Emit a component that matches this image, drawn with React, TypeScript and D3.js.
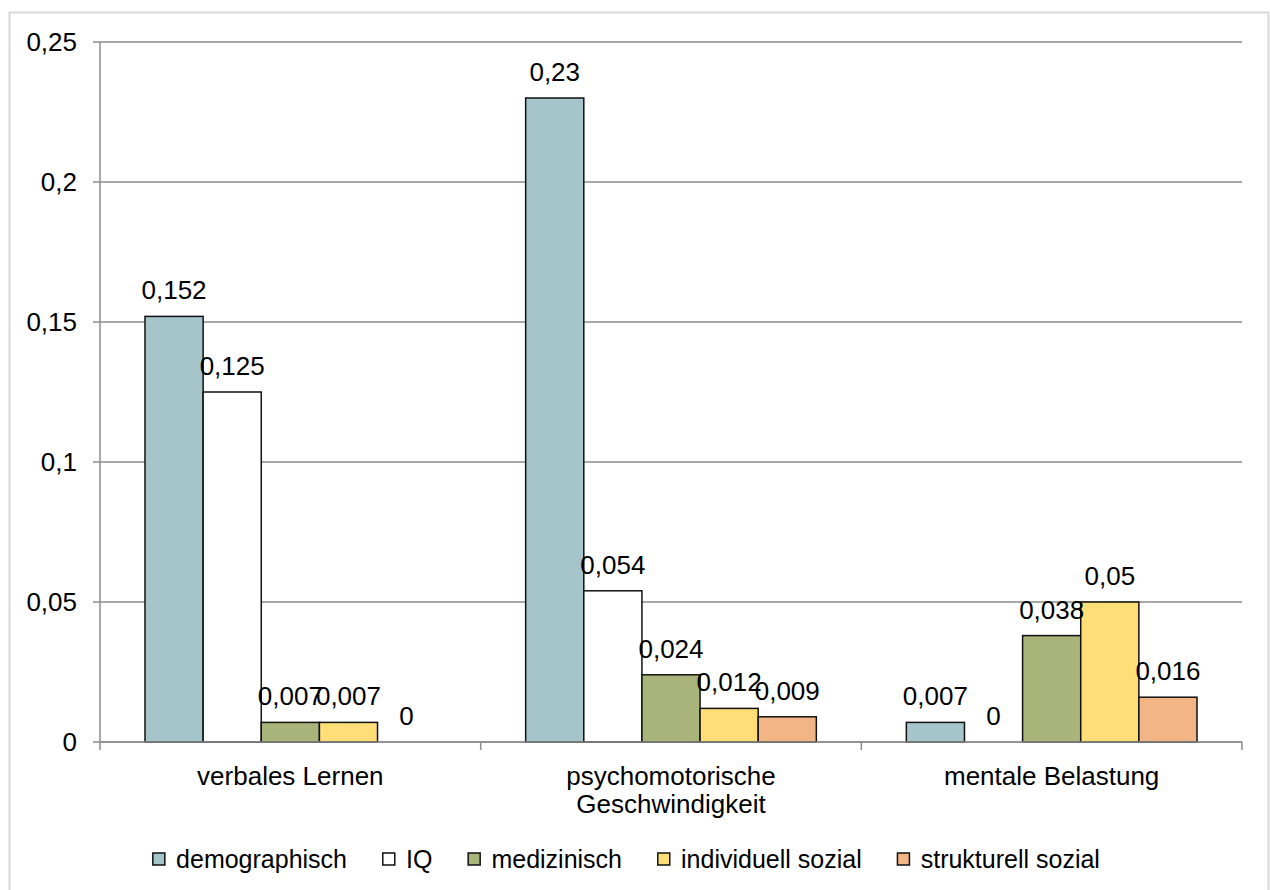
import * as d3 from 'd3';
import { useEffect, useRef } from 'react';

const categories = ['verbales Lernen', 'psychomotorische\nGeschwindigkeit', 'mentale Belastung'];
const seriesNames = ['demographisch', 'IQ', 'medizinisch', 'individuell sozial', 'strukturell sozial'];
const seriesColors = ['#a5c5cb', '#ffffff', '#a9b47b', '#ffdd77', '#f2b586'];
// values per series, in category order
const demographisch = [0.152, 0.23, 0.007];
const iq = [0.125, 0.054, 0];
const medizinisch = [0.007, 0.024, 0.038];
const individuellSozial = [0.007, 0.012, 0.05];
const strukturellSozial = [0, 0.009, 0.016];
const yTicks = [0, 0.05, 0.1, 0.15, 0.2, 0.25];

const fmt = (v: number) => String(v).replace('.', ',');

export default function App() {
  const svgRef = useRef<SVGSVGElement>(null);

  useEffect(() => {
    const svgElement = svgRef.current;
    if (!svgElement) return;
    d3.select(svgElement).selectAll('*').remove();

    const width = 1270;
    const height = 890;
    const left = 100;
    const right = 1242;
    const top = 42;
    const bottom = 742;
    const font = '"Liberation Sans", Arial, sans-serif';
    const fs = 26;

    const svg = d3
      .select(svgElement)
      .attr('width', width)
      .attr('height', height)
      .style('font-family', font);

    svg.append('rect').attr('width', width).attr('height', height).attr('fill', '#fff');
    // outer chart border
    svg
      .append('rect')
      .attr('x', 9.5)
      .attr('y', 12.5)
      .attr('width', 1259)
      .attr('height', 900)
      .attr('fill', 'none')
      .attr('stroke', '#d9d9d9')
      .attr('stroke-width', 2);

    const y = d3.scaleLinear().domain([0, 0.25]).range([bottom, top]);
    const x0 = d3.scaleBand().domain(categories).range([left, right]);
    const x1 = d3
      .scaleBand()
      .domain(seriesNames)
      .range([45, x0.bandwidth() - 45]);

    // gridlines
    svg
      .selectAll('line.grid')
      .data(yTicks)
      .join('line')
      .attr('class', 'grid')
      .attr('x1', left - 7)
      .attr('x2', right)
      .attr('y1', (d) => y(d))
      .attr('y2', (d) => y(d))
      .attr('stroke', '#8c8c8c')
      .attr('stroke-width', 1.5);

    svg
      .selectAll('text.ytick')
      .data(yTicks)
      .join('text')
      .attr('class', 'ytick')
      .attr('x', 77)
      .attr('y', (d) => y(d))
      .attr('dy', '0.35em')
      .attr('text-anchor', 'end')
      .attr('font-size', fs)
      .text((d) => fmt(d));

    // y axis line
    svg
      .append('line')
      .attr('x1', left)
      .attr('x2', left)
      .attr('y1', top)
      .attr('y2', bottom)
      .attr('stroke', '#8c8c8c')
      .attr('stroke-width', 1.5);

    // x tick marks
    const bounds = [...categories.map((c) => x0(c) as number), right];
    svg
      .selectAll('line.xtick')
      .data(bounds)
      .join('line')
      .attr('class', 'xtick')
      .attr('x1', (d) => d)
      .attr('x2', (d) => d)
      .attr('y1', bottom)
      .attr('y2', bottom + 8)
      .attr('stroke', '#8c8c8c')
      .attr('stroke-width', 1.5);

    const seriesValues = [demographisch, iq, medizinisch, individuellSozial, strukturellSozial];
    const rows = categories.flatMap((c, ci) =>
      seriesNames.map((s, si) => ({ c, s, si, v: seriesValues[si][ci] }))
    );

    const g = svg.append('g');
    g.selectAll('rect')
      .data(rows.filter((d) => d.v > 0))
      .join('rect')
      .attr('x', (d) => (x0(d.c) as number) + (x1(d.s) as number))
      .attr('y', (d) => y(d.v))
      .attr('width', x1.bandwidth())
      .attr('height', (d) => bottom - y(d.v))
      .attr('fill', (d) => seriesColors[d.si])
      .attr('stroke', '#111')
      .attr('stroke-width', 1.5);

    // redraw baseline over bars
    svg
      .append('line')
      .attr('x1', left)
      .attr('x2', right)
      .attr('y1', bottom)
      .attr('y2', bottom)
      .attr('stroke', '#8c8c8c')
      .attr('stroke-width', 1.5);

    g.selectAll('text')
      .data(rows)
      .join('text')
      .attr('x', (d) => (x0(d.c) as number) + (x1(d.s) as number) + x1.bandwidth() / 2)
      .attr('y', (d) => y(d.v) - 17)
      .attr('text-anchor', 'middle')
      .attr('font-size', fs)
      .text((d) => fmt(d.v));

    // category labels
    categories.forEach((c) => {
      const lines = c.split('\n');
      const t = svg
        .append('text')
        .attr('x', (x0(c) as number) + x0.bandwidth() / 2)
        .attr('y', 785)
        .attr('text-anchor', 'middle')
        .attr('font-size', fs);
      lines.forEach((l, i) => {
        t.append('tspan')
          .attr('x', (x0(c) as number) + x0.bandwidth() / 2)
          .attr('dy', i === 0 ? 0 : 28)
          .text(l);
      });
    });

    // legend
    const legend = svg.append('g');
    let cx = 0;
    seriesNames.forEach((s, i) => {
      const item = legend.append('g').attr('transform', `translate(${cx},0)`);
      item
        .append('rect')
        .attr('x', 0.75)
        .attr('y', -6)
        .attr('width', 12)
        .attr('height', 12)
        .attr('fill', seriesColors[i])
        .attr('stroke', '#111')
        .attr('stroke-width', 1.5);
      const t = item
        .append('text')
        .attr('x', 24)
        .attr('y', 0)
        .attr('dy', '0.35em')
        .attr('font-size', 25)
        .text(s);
      const w = (t.node() as SVGTextElement).getComputedTextLength();
      cx += 24 + w + 35;
    });
    const total = cx - 35;
    legend.attr('transform', `translate(${626 - total / 2},859)`);
  }, []);

  return <svg ref={svgRef} style={{ position: 'absolute', left: 0, top: 0, display: 'block' }} />;
}
